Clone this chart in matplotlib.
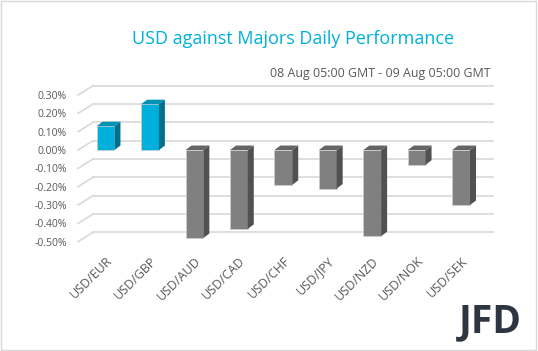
import matplotlib.pyplot as plt
from matplotlib.patches import Polygon, Rectangle
from matplotlib.transforms import IdentityTransform

pairs = ["USD/EUR", "USD/GBP", "USD/AUD", "USD/CAD", "USD/CHF",
         "USD/JPY", "USD/NZD", "USD/NOK", "USD/SEK"]
change = [0.13, 0.25, -0.48, -0.43, -0.19, -0.21, -0.47, -0.08, -0.30]
yticks = [0.3, 0.2, 0.1, 0.0, -0.1, -0.2, -0.3, -0.4, -0.5]

plt.rcParams['font.family'] = ['Open Sans', 'DejaVu Sans']

fig = plt.figure(figsize=(5.38, 3.51), dpi=100)
ax = fig.add_axes([0.145, 0.3114, 0.7435, 0.4179])
ax.set_xlim(-0.62, 8.38)
ax.set_ylim(-0.5, 0.3)
for s in ax.spines.values():
    s.set_visible(False)

# 3D look: offsets in pixels
wall_dx, wall_dy = 15, 9.3
bar_dx, bar_dy = 6, 4.5
grid_c = "#d9d9d9"

def px(x, y):
    return ax.transData.transform((x, y))

x0, x1 = ax.get_xlim()
for v in yticks:
    fx, fy = px(x0, v)
    rx, ry = px(x1, v)
    ax.plot([fx, fx + wall_dx], [fy, fy + wall_dy], color=grid_c, lw=1.2,
            transform=IdentityTransform(), clip_on=False, zorder=1)
    ax.plot([fx + wall_dx, rx + wall_dx], [fy + wall_dy, ry + wall_dy], color=grid_c,
            lw=1.2, transform=IdentityTransform(), clip_on=False, zorder=1)

w = 0.4
for i, v in enumerate(change):
    if v >= 0:
        front, side, top = "#00b0da", "#00718d", "#0091b4"
    else:
        front, side, top = "#808080", "#515151", "#656565"
    ax.bar(i, v, width=w, color=front, edgecolor="#cfcfcf", linewidth=0.5, zorder=3)
    (lx, by), (rx_, ty) = px(i - w / 2, min(v, 0)), px(i + w / 2, max(v, 0))
    side_pts = [(rx_, by), (rx_, ty), (rx_ + bar_dx, ty + bar_dy), (rx_ + bar_dx, by + bar_dy)]
    top_pts = [(lx, ty), (rx_, ty), (rx_ + bar_dx, ty + bar_dy), (lx + bar_dx, ty + bar_dy)]
    ax.add_patch(Polygon(side_pts, closed=True, facecolor=side, edgecolor="none",
                         transform=IdentityTransform(), clip_on=False, zorder=3))
    ax.add_patch(Polygon(top_pts, closed=True, facecolor=top, edgecolor="none",
                         transform=IdentityTransform(), clip_on=False, zorder=3))

ax.set_yticks(yticks)
ax.set_yticklabels(["%.2f%%" % v for v in yticks])
ax.tick_params(axis='y', length=0, pad=8, labelsize=7.5, labelcolor="#595959")
ax.set_xticks(range(len(pairs)))
ax.set_xticklabels(pairs, rotation=45, ha='right', rotation_mode='anchor')
ax.tick_params(axis='x', length=0, pad=9, labelsize=9, labelcolor="#595959")

fig.text(0.545, 0.89, "USD against Majors Daily Performance", color="#00b0da",
         fontsize=13, ha='center', va='center')
fig.text(0.911, 0.792, "08 Aug 05:00 GMT - 09 Aug 05:00 GMT", color="#595959",
         fontsize=8.9, ha='right', va='center')
fig.text(0.97, 0.083, "JFD", color="#2d3540", fontsize=28, fontweight='bold',
         ha='right', va='center')

fig.add_artist(Rectangle((0.002, 0.003), 0.995, 0.994, transform=fig.transFigure,
                         fill=False, edgecolor="#d9d9d9", lw=1))

fig.savefig("out.png", dpi=100)
